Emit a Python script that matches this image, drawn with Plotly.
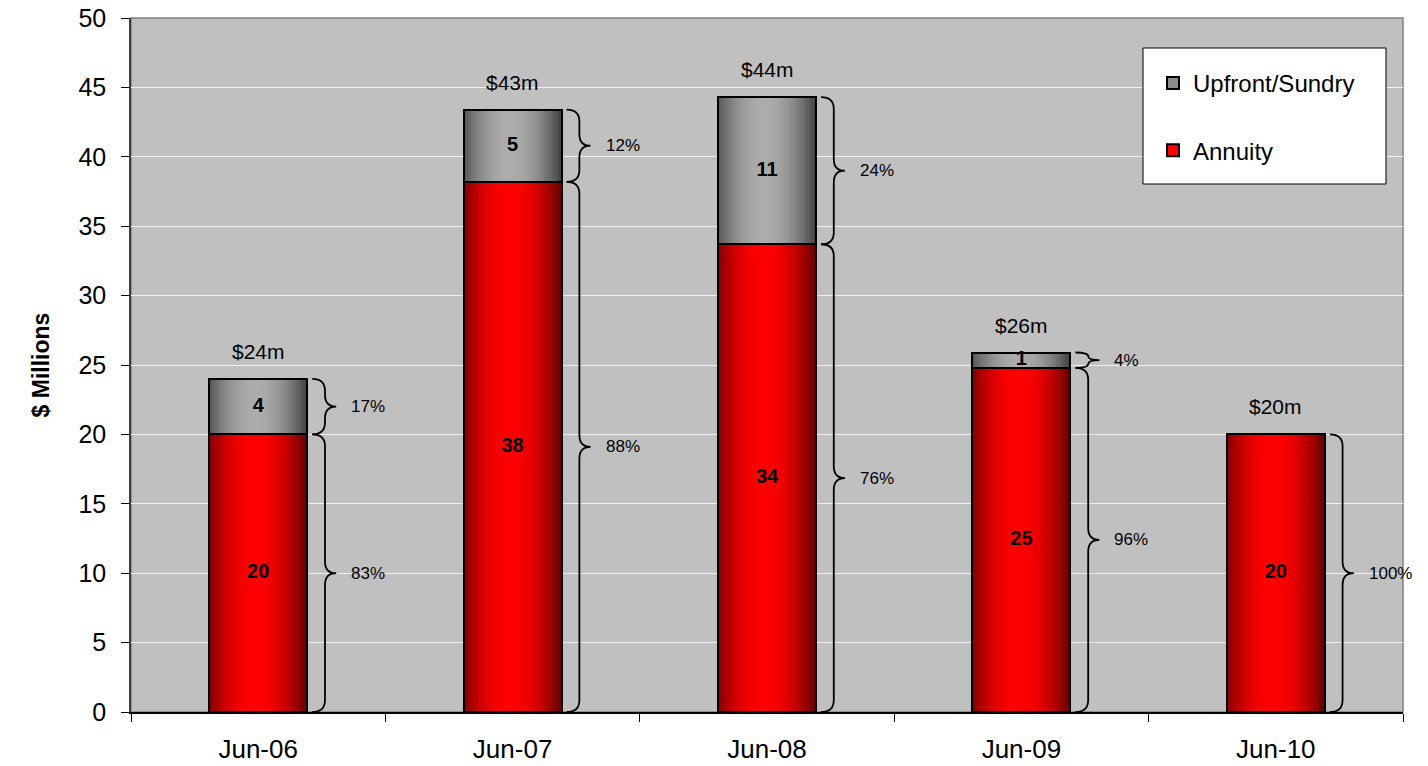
import plotly.graph_objects as go

# ---------------- data ----------------
categories = ["Jun-06", "Jun-07", "Jun-08", "Jun-09", "Jun-10"]
annuity = [20.0, 38.2, 33.7, 24.8, 20.0]
upfront = [4.0, 5.2, 10.6, 1.1, 0.0]
series_names = ["Annuity", "Upfront/Sundry"]
y_ticks = [0, 5, 10, 15, 20, 25, 30, 35, 40, 45, 50]

# ---------------- styling constants ----------------
FONT = "Liberation Sans, Arial, sans-serif"
BAR_W = 0.385
N_SLICES = 40
RED_EDGE, RED_CENTER = (95, 0, 0), (255, 0, 0)
GRAY_EDGE, GRAY_CENTER = (62, 62, 62), (172, 172, 172)
# brace geometry (x offsets from bar right edge, in category units)
B_END, B_BODY, B_TIP, B_TXT = 0.02, 0.07, 0.114, 0.165
B_CURL = 0.85  # y units

xpos = list(range(len(categories)))
totals = [a + u for a, u in zip(annuity, upfront)]


def grad(edge, center, t, peak=0.47):
    d = abs(t - peak) / max(peak, 1 - peak)
    m = 1 - d ** 2.0
    return "rgb(%d,%d,%d)" % tuple(round(e + (c - e) * m) for e, c in zip(edge, center))


fig = go.Figure()

series = [
    ("Upfront/Sundry", upfront, annuity, GRAY_EDGE, GRAY_CENTER, "#8c8c8c"),
    ("Annuity", annuity, [0] * len(annuity), RED_EDGE, RED_CENTER, "#ff0000"),
]

# legend carriers (fully covered by gradient slices)
for name, vals, base, edge, center, solid in series:
    fig.add_trace(go.Bar(
        x=xpos, y=vals, base=base, width=BAR_W, name=name, legendgroup=name,
        marker=dict(color=solid, line=dict(color="black", width=2)),
        hoverinfo="skip",
    ))

# gradient slices + outline
for name, vals, base, edge, center, solid in series:
    for i in range(N_SLICES):
        t = (i + 0.5) / N_SLICES
        fig.add_trace(go.Bar(
            x=xpos, y=vals, base=base,
            width=BAR_W * (1 - i / N_SLICES),
            offset=-BAR_W / 2 + i * BAR_W / N_SLICES,
            marker=dict(color=grad(edge, center, t), line=dict(width=0)),
            showlegend=False, hoverinfo="skip",
        ))
    fig.add_trace(go.Bar(
        x=xpos, y=vals, base=base, width=BAR_W,
        marker=dict(color="rgba(0,0,0,0)", line=dict(color="black", width=2)),
        showlegend=False, hoverinfo="skip",
    ))

# segment value labels
lab_x, lab_y, lab_t = [], [], []
for name, vals, base, *_ in series:
    for xi, v, b in zip(xpos, vals, base):
        if v > 0:
            lab_x.append(xi)
            lab_y.append(b + v / 2)
            lab_t.append("<b>%d</b>" % round(v))
fig.add_trace(go.Scatter(
    x=lab_x, y=lab_y, text=lab_t, mode="text", showlegend=False,
    textfont=dict(family=FONT, size=20, color="black"), hoverinfo="skip",
))

shapes = []
annotations = []


def brace_path(x0, y_bot, y_top):
    xe, xb, xt = x0 + B_END, x0 + B_BODY, x0 + B_TIP
    h = y_top - y_bot
    r = min(B_CURL, h / 4)
    ym = (y_top + y_bot) / 2
    return (f"M {xe},{y_top} Q {xb},{y_top} {xb},{y_top - r} "
            f"L {xb},{ym + r} Q {xb},{ym} {xt},{ym} "
            f"Q {xb},{ym} {xb},{ym - r} L {xb},{y_bot + r} "
            f"Q {xb},{y_bot} {xe},{y_bot}")


for xi, a, u, tot in zip(xpos, annuity, upfront, totals):
    right = xi + BAR_W / 2
    for b, v in ((0, a), (a, u)):
        if v <= 0:
            continue
        shapes.append(dict(type="path", xref="x", yref="y",
                           path=brace_path(right, b, b + v),
                           line=dict(color="black", width=1.8)))
        annotations.append(dict(x=right + B_TXT, y=b + v / 2, xref="x", yref="y",
                                text="%d%%" % round(v / tot * 100), showarrow=False,
                                xanchor="left", yanchor="middle",
                                font=dict(family=FONT, size=17, color="black")))
    annotations.append(dict(x=xi, y=tot, xref="x", yref="y", text="$%dm" % round(tot),
                            showarrow=False, xanchor="center", yanchor="bottom", yshift=14,
                            font=dict(family=FONT, size=21, color="black")))

# plot border (top/right) and legend box
shapes.append(dict(type="rect", xref="paper", yref="paper", x0=0, x1=1, y0=0, y1=1,
                   line=dict(color="#808080", width=1.5), layer="below"))
L, R, T, B = 131, 1403, 18, 712
W, H = R - L, B - T
shapes.append(dict(type="rect", xref="paper", yref="paper",
                   x0=(1143 - L) / W, x1=(1386 - L) / W,
                   y0=(B - 184) / H, y1=(B - 48) / H,
                   fillcolor="white", line=dict(color="black", width=1), layer="above"))

fig.update_layout(
    width=1428, height=766,
    margin=dict(l=L, r=1428 - R, t=T, b=766 - B, autoexpand=False),
    paper_bgcolor="white", plot_bgcolor="#C0C0C0",
    barmode="overlay", bargap=0,
    font=dict(family=FONT, color="black"),
    shapes=shapes, annotations=annotations,
    showlegend=True,
    legend=dict(x=(1153 - L) / W, y=(B - 61) / H, xanchor="left", yanchor="top",
                bgcolor="rgba(0,0,0,0)", borderwidth=0,
                font=dict(family=FONT, size=24, color="black"),
                tracegroupgap=33, traceorder="grouped"),
    xaxis=dict(range=[-0.5, 4.5], tickmode="array", tickvals=xpos, ticktext=categories,
               automargin=False,
               ticks="", showgrid=False, zeroline=False, showline=True,
               linecolor="black", linewidth=1.5,
               tickfont=dict(family=FONT, size=26, color="black"),
               ticklabelstandoff=13,
               minor=dict(tickmode="array", tickvals=[i - 0.5 for i in range(6)],
                          ticks="outside", ticklen=8, tickcolor="black", tickwidth=1,
                          showgrid=False)),
    yaxis=dict(range=[0, 50], tickmode="array", tickvals=y_ticks, automargin=False,
               ticks="outside", ticklen=8, tickcolor="black", tickwidth=1,
               showgrid=True, gridcolor="#F0F0F0", gridwidth=1.2,
               zeroline=False, showline=True, linecolor="#404040", linewidth=1.5,
               tickfont=dict(family=FONT, size=25, color="black"),
               ticklabelstandoff=10,
               title=dict(text="<b>$ Millions</b>", standoff=22,
                          font=dict(family=FONT, size=23, color="black"))),
)

fig.write_html("out.html")
